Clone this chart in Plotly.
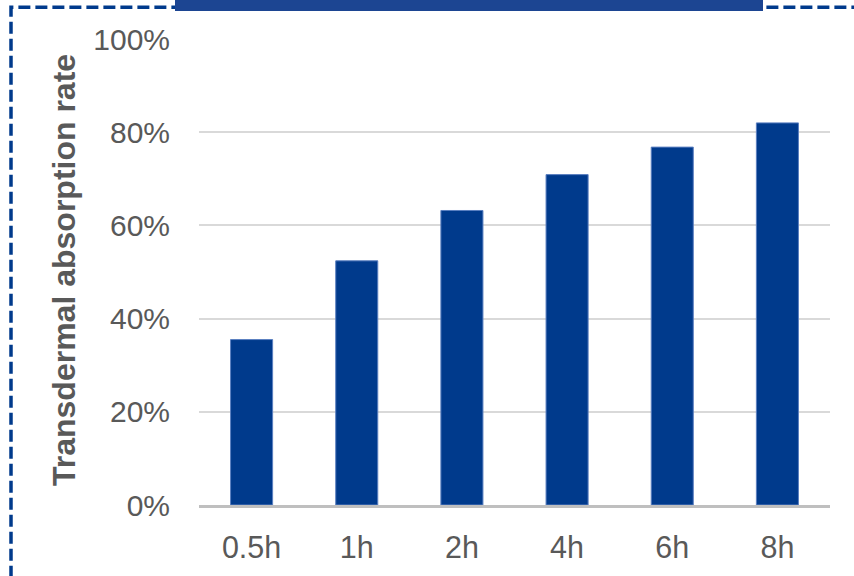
import plotly.graph_objects as go

categories = ["0.5h", "1h", "2h", "4h", "6h", "8h"]
absorption = [0.355, 0.524, 0.632, 0.709, 0.768, 0.820]
y_ticks = [0, 0.2, 0.4, 0.6, 0.8, 1.0]

W, H = 854, 576
L, R, T, B = 199, W - 830, 39, H - 507
pw, ph = W - L - R, H - T - B

def px_x(x):
    return (x - L) / pw

def px_y(y):
    return (H - B - y) / ph

fig = go.Figure(go.Bar(
    x=categories, y=absorption,
    marker=dict(color="#003a8c", line=dict(color="#5a7fc0", width=1)),
    width=0.4,
))

fig.update_layout(
    width=W, height=H,
    margin=dict(l=L, r=R, t=T, b=B),
    plot_bgcolor="white", paper_bgcolor="white",
    font=dict(family="Liberation Sans, Arial", color="#595959"),
    showlegend=False,
)
fig.update_yaxes(
    range=[0, 1.0], tickvals=y_ticks, tickformat=".0%",
    tickfont=dict(size=30, color="#595959"),
    showgrid=True, gridcolor="#d9d9d9", gridwidth=2,
    zeroline=False, showline=False, ticklabelstandoff=28,
)
fig.update_xaxes(
    tickfont=dict(size=30.5, color="#595959"),
    showline=True, linecolor="#bfbfbf", linewidth=3,
    ticklabelstandoff=13,
)

fig.add_annotation(
    text="<b>Transdermal absorption rate</b>", textangle=-90,
    xref="paper", yref="paper", x=px_x(64), y=px_y(271),
    xanchor="center", yanchor="middle", showarrow=False,
    font=dict(size=32, color="#595959"),
)

fig.add_shape(type="rect", xref="paper", yref="paper",
              x0=px_x(11), x1=px_x(880), y0=px_y(620), y1=px_y(7),
              line=dict(color="#003a8c", width=3.5, dash="12px,5px"),
              fillcolor="rgba(0,0,0,0)", layer="above")
fig.add_shape(type="rect", xref="paper", yref="paper",
              x0=px_x(175), x1=px_x(763), y0=px_y(11), y1=px_y(-5),
              line=dict(width=0), fillcolor="#1c4592", layer="above")

fig.write_html("out.html",
               config={"displayModeBar": False},
               post_script="document.body.style.margin='0';document.body.style.padding='0';")
